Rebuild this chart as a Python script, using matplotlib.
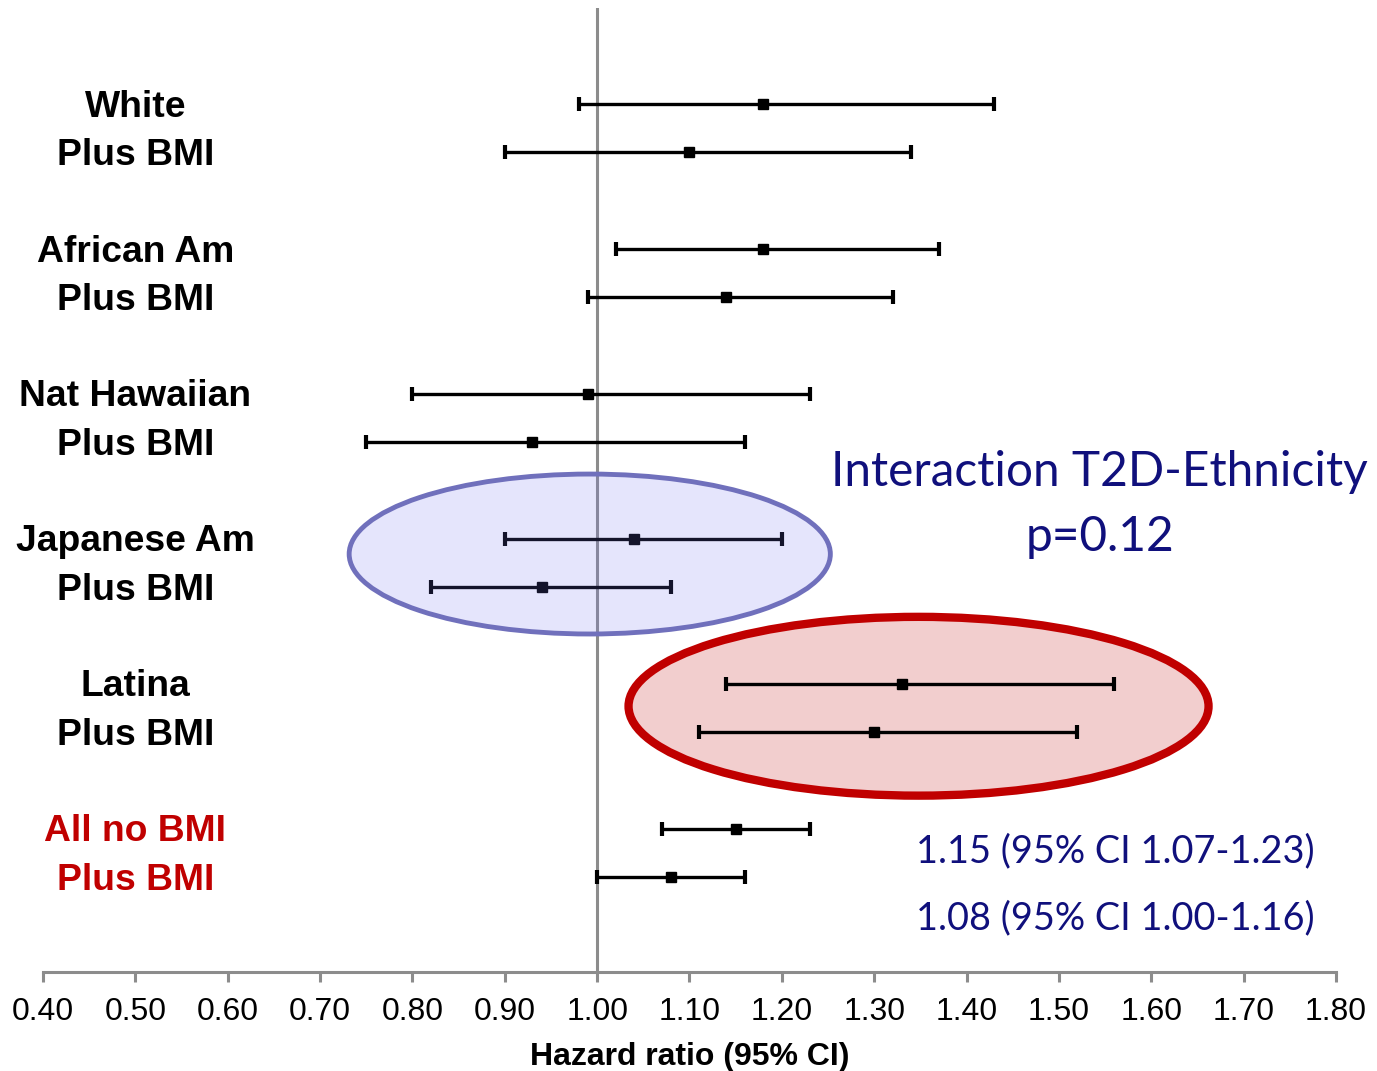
import matplotlib.pyplot as plt
from matplotlib.patches import Ellipse

# hazard ratios (95% CI) by ethnicity, without / with BMI adjustment
groups = ['White', 'African Am', 'Nat Hawaiian', 'Japanese Am', 'Latina', 'All no BMI']
hr_base = [1.18, 1.18, 0.99, 1.04, 1.33, 1.15]
lo_base = [0.98, 1.02, 0.80, 0.90, 1.14, 1.07]
hi_base = [1.43, 1.37, 1.23, 1.20, 1.56, 1.23]
hr_bmi = [1.10, 1.14, 0.93, 0.94, 1.30, 1.08]
lo_bmi = [0.90, 0.99, 0.75, 0.82, 1.11, 1.00]
hi_bmi = [1.34, 1.32, 1.16, 1.08, 1.52, 1.16]

xticks = [0.40 + 0.1 * i for i in range(15)]

navy = '#10107c'
red = '#c00000'

plt.rcParams['font.family'] = ['Liberation Sans', 'DejaVu Sans']
note_font = ['Lato', 'DejaVu Sans']

fig = plt.figure(figsize=(13.77, 10.71), dpi=100)
ax = fig.add_axes([43 / 1377, 1 - 972 / 1071, 1293 / 1377, 964 / 1071])

ys_base = [3 * g for g in range(len(groups))]
ys_bmi = [3 * g + 1 for g in range(len(groups))]

ax.axvline(1.0, color='#8c8c8c', lw=2.2, zorder=1)

for hr, lo, hi, ys in [(hr_base, lo_base, hi_base, ys_base),
                       (hr_bmi, lo_bmi, hi_bmi, ys_bmi)]:
    err = [[h - l for h, l in zip(hr, lo)], [u - h for h, u in zip(hr, hi)]]
    ax.errorbar(hr, ys, xerr=err, fmt='s', color='black', ms=7.5,
                lw=2.4, capsize=5, capthick=3, zorder=3)

# red highlight behind Latina, translucent blue over Japanese Am
ax.add_patch(Ellipse((1.348, 12.46), 0.628, 3.70, facecolor='#f2cece',
                     edgecolor=red, lw=6, zorder=2))
ax.add_patch(Ellipse((0.992, 9.31), 0.521, 3.31, facecolor=(0.45, 0.45, 0.95, 0.18),
                     edgecolor='#7070bc', lw=3.5, zorder=4))

for g, name in enumerate(groups):
    c = red if name == 'All no BMI' else 'black'
    ax.text(0.5, ys_base[g] + 0.06, name, ha='center', va='center', fontsize=26.8,
            fontweight='bold', color=c)
    ax.text(0.5, ys_bmi[g] + 0.06, 'Plus BMI', ha='center', va='center', fontsize=26.8,
            fontweight='bold', color=c)

ax.text(1.544, 7.90, 'Interaction T2D-Ethnicity', ha='center', va='baseline',
        fontsize=34.4, color=navy, family=note_font)
ax.text(1.544, 9.25, 'p=0.12', ha='center', va='baseline',
        fontsize=34.4, color=navy, family=note_font)
ax.text(1.345, 15.68, '1.15 (95% CI 1.07-1.23)', ha='left', va='baseline',
        fontsize=27.3, color=navy, family=note_font)
ax.text(1.345, 17.07, '1.08 (95% CI 1.00-1.16)', ha='left', va='baseline',
        fontsize=27.3, color=navy, family=note_font)

ax.set_xlim(0.4, 1.8)
ax.set_ylim(17.96, -1.99)
ax.set_xticks(xticks)
ax.set_xticklabels(['%.2f' % t for t in xticks], fontsize=23)
ax.set_yticks([])
for s in ['top', 'left', 'right']:
    ax.spines[s].set_visible(False)
ax.spines['bottom'].set_color('#8c8c8c')
ax.spines['bottom'].set_linewidth(2.2)
ax.tick_params(axis='x', color='#8c8c8c', width=2.2, length=7, pad=11)
ax.set_xlabel('Hazard ratio (95% CI)', fontsize=23, fontweight='bold', labelpad=11)

fig.savefig('out.png', dpi=100)
